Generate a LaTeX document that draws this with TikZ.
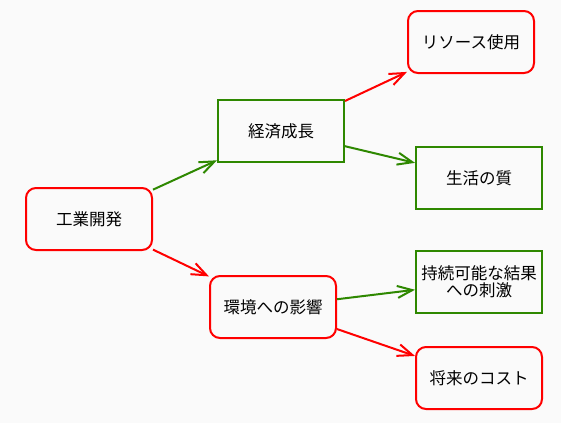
\documentclass[tikz,border=0pt]{standalone}
\usepackage{fontspec}
\setmainfont{Noto Sans CJK JP}
\usetikzlibrary{arrows.meta}
\definecolor{myred}{RGB}{255,0,0}
\definecolor{mygreen}{RGB}{46,136,0}
\definecolor{bgc}{RGB}{250,250,250}
\tikzset{
  basebox/.style={draw, line width=2pt, minimum width=126pt, minimum height=62pt,
    inner sep=1pt, align=center, font=\fontsize{16.5}{17}\selectfont},
  redbox/.style={basebox, draw=myred, rounded corners=10pt},
  greenbox/.style={basebox, draw=mygreen},
  conn/.style={line width=2pt, -{Straight Barb[length=15pt,width=12pt]}},
  redconn/.style={conn, draw=myred},
  greenconn/.style={conn, draw=mygreen},
}
\begin{document}
\begin{tikzpicture}[x=1pt,y=-1pt]
\fill[bgc] (0,0) rectangle (561,423);
\useasboundingbox (0,0) rectangle (561,423);
\node[redbox] (A) at (89,219) {工業開発};
\node[greenbox] (B) at (281,131) {経済成長};
\node[redbox] (C) at (273,307) {環境への影響};
\node[redbox] (D) at (471,42) {リソース使用};
\node[greenbox] (E) at (479,178) {生活の質};
\node[greenbox] (F) at (479,282) {持続可能な結果\\への刺激};
\node[redbox] (G) at (479,378) {将来のコスト};
\draw[greenconn] (A) -- (B);
\draw[redconn] (A) -- (C);
\draw[redconn] (B) -- (D);
\draw[greenconn] (B) -- (E);
\draw[greenconn] (C) -- (F);
\draw[redconn] (C) -- (G);
\end{tikzpicture}
\end{document}
